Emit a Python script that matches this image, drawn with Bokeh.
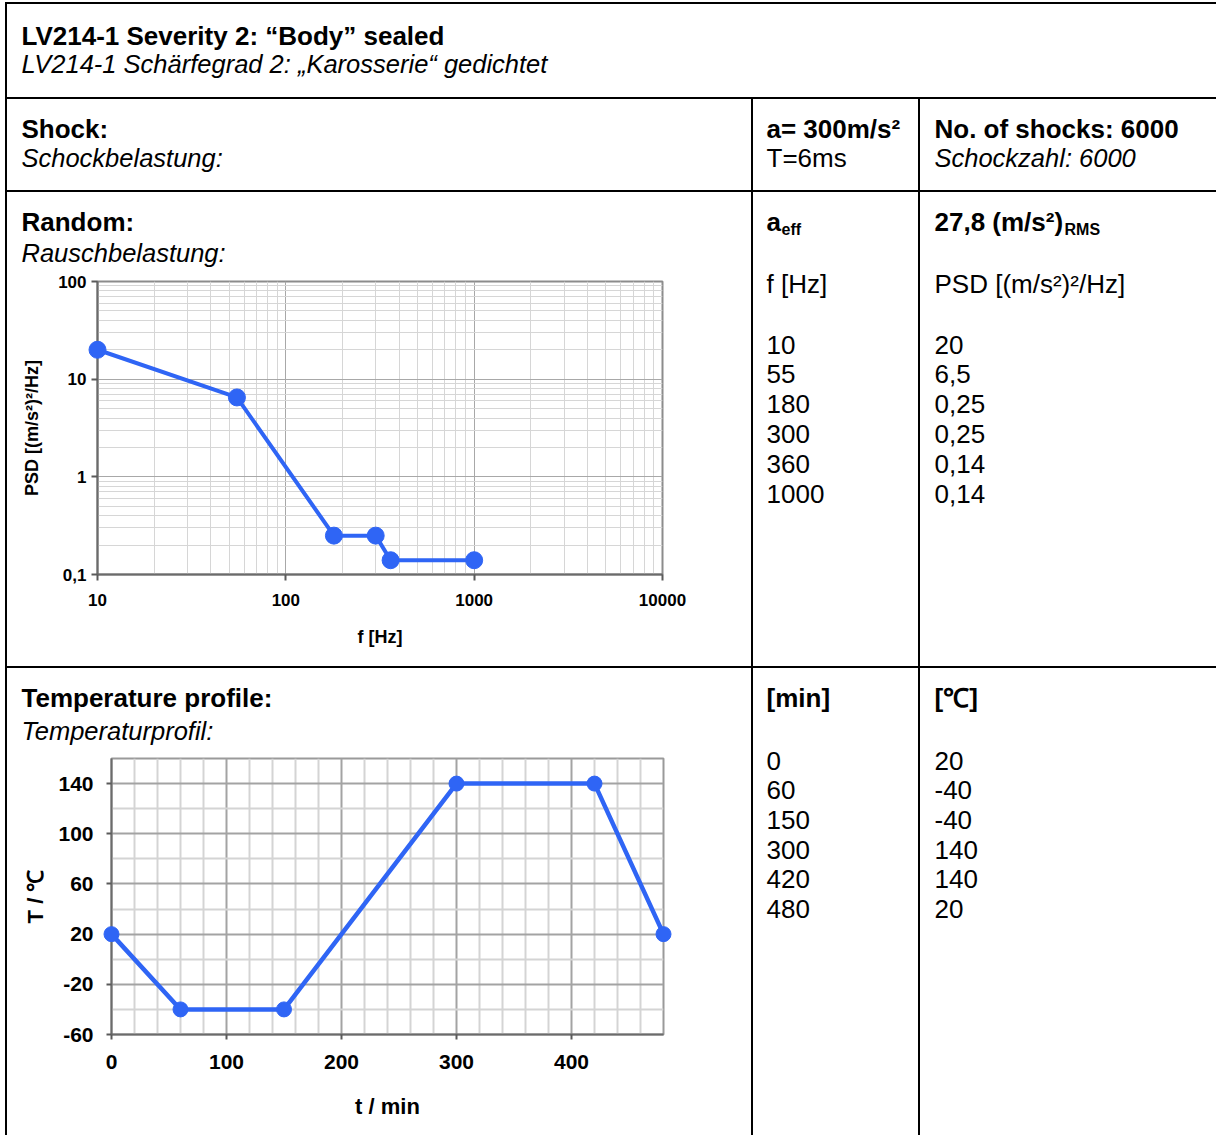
from bokeh.plotting import figure
from bokeh.layouts import column, row
from bokeh.models import Range1d, FixedTicker, ColumnDataSource
from bokeh.core.properties import value
from bokeh.embed import file_html
from bokeh.resources import INLINE

# ---------------- data ----------------
psd_freq = [10, 55, 180, 300, 360, 1000]
psd_val = [20, 6.5, 0.25, 0.25, 0.14, 0.14]
temp_time = [0, 60, 150, 300, 420, 480]
temp_val = [20, -40, -40, 140, 140, 20]

psd_x_ticks = [10, 100, 1000, 10000]
psd_x_tick_labels = ["10", "100", "1000", "10000"]
psd_y_ticks = [0.1, 1, 10, 100]
psd_y_tick_labels = ["0,1", "1", "10", "100"]
temp_x_ticks = [0, 100, 200, 300, 400]
temp_y_ticks = [-60, -20, 20, 60, 100, 140]

FONT = "Liberation Sans"
BLUE = "#2F65F5"
SZ = "26px"
SZI = "25.5px"
WHITE = {"background-color": "white"}


def de_num(v):
    return str(v).replace(".", ",")


def no_align(p):
    if "frame_align" in p.properties():
        p.frame_align = False


# ---------------- helpers ----------------
def text_cell(w, h, items):
    p = figure(width=w, height=h, x_range=Range1d(0, w), y_range=Range1d(h, 0),
               x_axis_type=None, y_axis_type=None, title=None, min_border=0,
               output_backend="svg", toolbar_location=None, styles=WHITE)
    no_align(p)
    p.outline_line_color = None
    p.background_fill_color = "white"
    p.border_fill_color = "white"
    for (x, y, txt, style, size) in items:
        p.text(x=[x], y=[y], text=[txt], text_font=value(FONT), text_font_style=style,
               text_font_size=size, text_baseline="alphabetic", text_align="left",
               text_color="black")
    return p


def style_axis(ax, tick_size, label_size, standoff, label_standoff, tick_out):
    ax.major_label_text_font = FONT
    ax.major_label_text_font_style = "bold"
    ax.major_label_text_font_size = tick_size
    ax.major_label_text_color = "black"
    ax.major_label_standoff = standoff
    ax.axis_label_text_font = FONT
    ax.axis_label_text_font_style = "bold"
    ax.axis_label_text_font_size = label_size
    ax.axis_label_text_color = "black"
    ax.axis_label_standoff = label_standoff
    ax.major_tick_out = tick_out
    ax.major_tick_in = 0
    ax.minor_tick_out = 0
    ax.minor_tick_in = 0
    ax.major_tick_line_color = "#5a5a5a"
    ax.major_tick_line_width = 2
    ax.axis_line_color = "#6b6b6b"
    ax.axis_line_width = 2


# ---------------- row 1 ----------------
title_cell = text_cell(1209, 93, [
    (14, 31.3, "LV214-1 Severity 2: \u201cBody\u201d sealed", "bold", SZ),
    (14, 59.5, "LV214-1 Sch\u00e4rfegrad 2: \u201eKarosserie\u201c gedichtet", "italic", SZI),
])

# ---------------- row 2 ----------------
c21 = text_cell(744, 91, [
    (14, 29, "Shock:", "bold", SZ),
    (14, 58.5, "Schockbelastung:", "italic", SZI),
])
c22 = text_cell(165, 91, [
    (13, 29, "a= 300m/s\u00b2", "bold", SZ),
    (13, 58.5, "T=6ms", "normal", SZ),
])
c23 = text_cell(296, 91, [
    (14, 29, "No. of shocks: 6000", "bold", SZ),
    (14, 58.5, "Schockzahl: 6000", "italic", SZI),
])

# ---------------- row 3 : PSD chart ----------------
W3, H3 = 744, 474
HEAD3 = 78
FL, FT, FR, FB = 90, 89 - HEAD3, 89, 92
psd_head = text_cell(W3, HEAD3, [
    (14, 29.7, "Random:", "bold", SZ),
    (14, 60.2, "Rauschbelastung:", "italic", SZI),
])
psd = figure(width=W3, height=H3 - HEAD3, x_axis_type="log", y_axis_type="log",
             x_range=Range1d(10, 10000), y_range=Range1d(0.1, 100), title=None,
             min_border_left=FL, min_border_right=FR, min_border_top=FT, min_border_bottom=FB,
             output_backend="svg", toolbar_location=None, styles=WHITE)
no_align(psd)
psd.background_fill_color = "white"
psd.border_fill_color = "white"
psd.outline_line_color = "#8c8c8c"
psd.outline_line_width = 2

xt = FixedTicker(ticks=psd_x_ticks, minor_ticks=[m * 10 ** k for k in range(1, 4) for m in range(2, 10)])
yt = FixedTicker(ticks=psd_y_ticks, minor_ticks=[m * 10.0 ** k for k in range(-1, 2) for m in range(2, 10)])
psd.xaxis.ticker = xt
psd.xgrid.ticker = xt
psd.yaxis.ticker = yt
psd.ygrid.ticker = yt
psd.xaxis.major_label_overrides = dict(zip(psd_x_ticks, psd_x_tick_labels))
psd.yaxis.major_label_overrides = dict(zip(psd_y_ticks, psd_y_tick_labels))
psd.xaxis.axis_label = "f [Hz]"
psd.yaxis.axis_label = "PSD [(m/s\u00b2)\u00b2/Hz]"
style_axis(psd.xaxis[0], "17px", "18px", 13, 18, 6)
style_axis(psd.yaxis[0], "17px", "18px", 5, 13, 6)
for g in (psd.xgrid[0], psd.ygrid[0]):
    g.grid_line_color = "#a8a8a8"
    g.grid_line_width = 1
    g.minor_grid_line_color = "#d6d6d6"
    g.minor_grid_line_width = 1

psd_src = ColumnDataSource(dict(f=psd_freq, v=psd_val))
psd.line("f", "v", source=psd_src, line_color=BLUE, line_width=4, level="overlay")
psd.scatter("f", "v", source=psd_src, size=17, fill_color=BLUE, line_color=BLUE, level="overlay")
psd_cell = column(psd_head, psd, spacing=0, styles=WHITE)

c32_items = [
    (13, 29, "a", "bold", SZ),
    (28, 36.6, "eff", "bold", "16px"),
    (13, 91.5, "f [Hz]", "normal", SZ),
]
c33_items = [
    (14, 29, "27,8 (m/s\u00b2)", "bold", SZ),
    (144, 36.6, "RMS", "bold", "16px"),
    (14, 91.5, "PSD [(m/s\u00b2)\u00b2/Hz]", "normal", SZ),
]
for i, (f, v) in enumerate(zip(psd_freq, psd_val)):
    c32_items.append((13, 152 + 29.8 * i, str(f), "normal", SZ))
    c33_items.append((14, 152 + 29.8 * i, de_num(v), "normal", SZ))
c32 = text_cell(165, H3, c32_items)
c33 = text_cell(296, H3, c33_items)

# ---------------- row 4 : temperature chart ----------------
W4, H4 = 744, 467
HEAD4 = 80
TL, TT, TR, TB = 104, 90 - HEAD4, 88, 101
tmp_head = text_cell(W4, HEAD4, [
    (14, 29, "Temperature profile:", "bold", SZ),
    (14, 62, "Temperaturprofil:", "italic", SZI),
])
tmp = figure(width=W4, height=H4 - HEAD4, x_range=Range1d(0, 480), y_range=Range1d(-60, 160), title=None,
             min_border_left=TL, min_border_right=TR, min_border_top=TT, min_border_bottom=TB,
             output_backend="svg", toolbar_location=None, styles=WHITE)
no_align(tmp)
tmp.background_fill_color = "white"
tmp.border_fill_color = "white"
tmp.outline_line_color = "#9a9a9a"
tmp.outline_line_width = 2

txt = FixedTicker(ticks=temp_x_ticks, minor_ticks=[v for v in range(20, 480, 20) if v % 100 != 0])
tyt = FixedTicker(ticks=temp_y_ticks, minor_ticks=[v for v in range(-40, 160, 40)])
tmp.xaxis.ticker = txt
tmp.xgrid.ticker = txt
tmp.yaxis.ticker = tyt
tmp.ygrid.ticker = tyt
tmp.yaxis.major_label_overrides = {t: str(t) for t in temp_y_ticks}
tmp.xaxis.axis_label = "t / min"
tmp.yaxis.axis_label = "T / \u2103"
style_axis(tmp.xaxis[0], "21px", "22px", 15, 22, 5)
style_axis(tmp.yaxis[0], "21px", "22px", 13, 7, 5)
for g in (tmp.xgrid[0], tmp.ygrid[0]):
    g.grid_line_color = "#a3a3a3"
    g.grid_line_width = 2
    g.minor_grid_line_color = "#d4d4d4"
    g.minor_grid_line_width = 2

tmp_src = ColumnDataSource(dict(t=temp_time, v=temp_val))
tmp.line("t", "v", source=tmp_src, line_color=BLUE, line_width=4.5, level="overlay")
tmp.scatter("t", "v", source=tmp_src, size=15, fill_color=BLUE, line_color=BLUE, level="overlay")
tmp_cell = column(tmp_head, tmp, spacing=0, styles=WHITE)

c42_items = [(13, 29.5, "[min]", "bold", SZ)]
c43_items = [(14, 29.5, "[\u2103]", "bold", SZ)]
for i, (t, v) in enumerate(zip(temp_time, temp_val)):
    c42_items.append((13, 92.3 + 29.6 * i, str(t), "normal", SZ))
    c43_items.append((14, 92.3 + 29.6 * i, str(v), "normal", SZ))
c42 = text_cell(165, H4, c42_items)
c43 = text_cell(296, H4, c43_items)

# ---------------- layout (black gaps = table rules) ----------------
r2 = row(c21, c22, c23, spacing=2)
r3 = row(psd_cell, c32, c33, spacing=2)
r4 = row(tmp_cell, c42, c43, spacing=2)
root = column(title_cell, r2, r3, r4, spacing=2, margin=(2, 0, 0, 5),
              styles={"background-color": "black", "padding": "2px 0px 0px 2px"})

open("out.html", "w").write(file_html(root, INLINE))
